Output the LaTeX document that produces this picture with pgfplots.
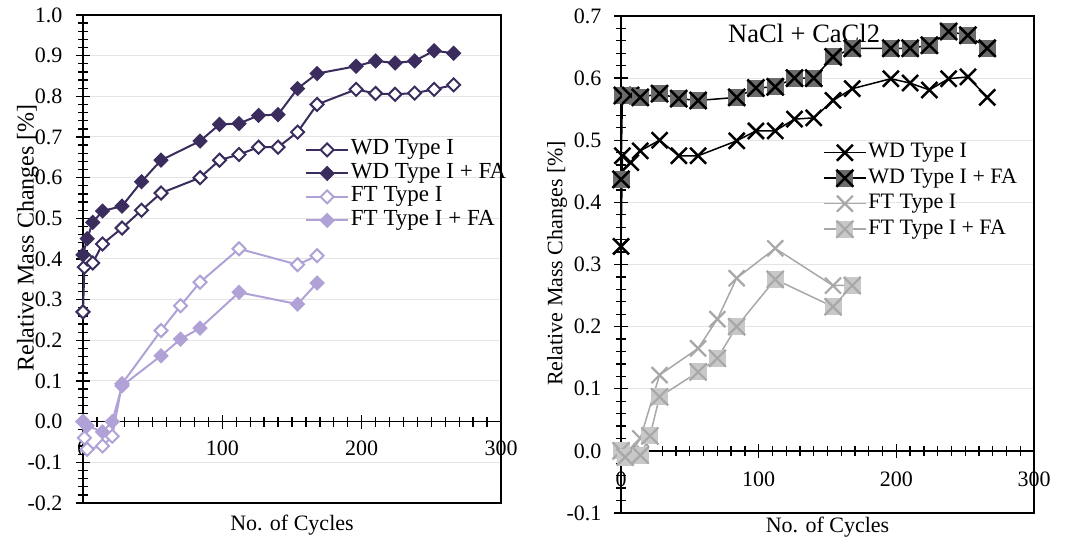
\documentclass[border=0pt]{standalone}
\usepackage{fontspec}
\setmainfont{Liberation Serif}
\usepackage{pgfplots}
\pgfplotsset{compat=1.18}

\definecolor{dpurple}{HTML}{3B2C5E}
\definecolor{lpurple}{HTML}{B0A2D6}
\definecolor{dgrayfill}{HTML}{6B6B6B}
\definecolor{lgray}{HTML}{A8A8A8}
\definecolor{lgrayfill}{HTML}{C8C8C8}
\definecolor{gridc}{HTML}{E4E4E4}

\pgfdeclareplotmark{rdiam}{%
  \pgfpathmoveto{\pgfqpoint{0pt}{\pgfplotmarksize}}%
  \pgfpathlineto{\pgfqpoint{\pgfplotmarksize}{0pt}}%
  \pgfpathlineto{\pgfqpoint{0pt}{-\pgfplotmarksize}}%
  \pgfpathlineto{\pgfqpoint{-\pgfplotmarksize}{0pt}}%
  \pgfpathclose\pgfusepathqfillstroke}
\pgfdeclareplotmark{bigx}{%
  \pgfpathmoveto{\pgfqpoint{-\pgfplotmarksize}{-\pgfplotmarksize}}%
  \pgfpathlineto{\pgfqpoint{\pgfplotmarksize}{\pgfplotmarksize}}%
  \pgfpathmoveto{\pgfqpoint{-\pgfplotmarksize}{\pgfplotmarksize}}%
  \pgfpathlineto{\pgfqpoint{\pgfplotmarksize}{-\pgfplotmarksize}}%
  \pgfusepathqstroke}
\pgfdeclareplotmark{boxx}{%
  \pgfpathrectangle{\pgfqpoint{-\pgfplotmarksize}{-\pgfplotmarksize}}{\pgfqpoint{2\pgfplotmarksize}{2\pgfplotmarksize}}%
  \pgfusepathqfill
  \pgfpathmoveto{\pgfqpoint{-\pgfplotmarksize}{-\pgfplotmarksize}}%
  \pgfpathlineto{\pgfqpoint{\pgfplotmarksize}{\pgfplotmarksize}}%
  \pgfpathmoveto{\pgfqpoint{-\pgfplotmarksize}{\pgfplotmarksize}}%
  \pgfpathlineto{\pgfqpoint{\pgfplotmarksize}{-\pgfplotmarksize}}%
  \pgfusepathqstroke}

\pgfplotsset{
  tickax/.style={
    scale only axis, anchor=south west,
    xmin=0, xmax=300,
    axis x line=middle, axis y line=left,
    axis line style={-, line width=1.6pt, black},
    major tick style={black, line width=1.3pt},
    minor tick style={black, line width=1.2pt},
    tick align=center, major tick length=14pt, minor tick length=10pt,
    xtick={0,100,200,300}, xticklabels={0,100,200,300},
    minor x tick num=9, minor y tick num=4,
    ymajorgrids, y grid style={gridc, line width=1pt},
    hide obscured x ticks=false, hide obscured y ticks=false,
    clip=false,
    ticklabel style={font=\fontsize{22}{26}\selectfont},
  },
  dataax/.style={
    scale only axis, anchor=south west,
    xmin=0, xmax=300, hide axis, clip=false,
    legend cell align=left,
    legend image code/.code={\draw[mark repeat=2,mark phase=2] plot coordinates {(0pt,0pt) (21pt,0pt) (42pt,0pt)};},
  },
}

\begin{document}
\begin{tikzpicture}[font=\fontsize{22}{26}\selectfont]
\useasboundingbox (0pt,0pt) rectangle (1066pt,540pt);

% ---------------- left panel: axes, ticks, grid ----------------
\begin{axis}[tickax, at={(83pt,37pt)}, width=418pt, height=488pt,
  ymin=-0.2, ymax=1.0,
  ytick={-0.2,-0.1,0,0.1,0.2,0.3,0.4,0.5,0.6,0.7,0.8,0.9,1.0},
  yticklabels={-0.2,-0.1,0.0,0.1,0.2,0.3,0.4,0.5,0.6,0.7,0.8,0.9,1.0},
  yticklabel style={xshift=-10pt}, xticklabel style={yshift=-9pt},
]
\addplot[draw=none, forget plot] coordinates {(0,0)};
\draw[line width=1.4pt, black] (rel axis cs:0,0) -- (rel axis cs:1,0) -- (rel axis cs:1,1) -- (rel axis cs:0,1);
\node[rotate=90, font=\fontsize{24}{28}\selectfont] at (axis cs:-39.5,0.452) {Relative Mass Changes [\%]};
\node at (axis cs:150,-0.254) {No. of Cycles};
\end{axis}

% tick ladders of the left panel (axis decoration)
\begin{scope}[x=1pt, y=1pt, line width=1.3pt, black]
\foreach \i in {0,...,60}{
  \pgfmathsetmacro\L{mod(\i,5)==0 ? 7 : 5}
  \draw ({83-\L},{37+\i*8.13333}) -- ({83+\L},{37+\i*8.13333});
}
\foreach \j in {0,...,30}{
  \pgfmathsetmacro\L{mod(\j,10)==0 ? 7 : 5}
  \draw ({83+\j*13.93333},{118.3333-\L}) -- ({83+\j*13.93333},{118.3333+\L});
}
\end{scope}

% ---------------- left panel: data ----------------
\begin{axis}[dataax, at={(83pt,37pt)}, width=418pt, height=488pt,
  ymin=-0.2, ymax=1.0,
  legend style={at={(0.531,0.748)}, anchor=north west, draw=none, fill=none,
    inner sep=0pt, font=\fontsize{23}{27}\selectfont,
    nodes={inner sep=1.75pt, text height=15pt, text depth=5pt}},
]
\addplot[dpurple, line width=2pt, mark=rdiam, mark size=6.5pt, mark options={fill=white, line width=2pt}] coordinates {
(0,0.27) (1,0.38) (3,0.40) (7,0.39) (14,0.437) (28,0.476) (42,0.52) (56,0.562)
(84,0.60) (98,0.643) (112,0.657) (126,0.675) (140,0.675) (154,0.712) (168,0.78)
(196,0.817) (210,0.807) (224,0.805) (238,0.808) (252,0.817) (266,0.828)};
\addlegendentry{WD Type I}
\addplot[dpurple, line width=2pt, mark=rdiam, mark size=7pt, mark options={fill=dpurple, line width=1pt}] coordinates {
(0,0.41) (3,0.45) (7,0.49) (14,0.518) (28,0.53) (42,0.59) (56,0.643)
(84,0.69) (98,0.731) (112,0.733) (126,0.753) (140,0.755) (154,0.819) (168,0.856)
(196,0.874) (210,0.887) (224,0.882) (238,0.887) (252,0.912) (266,0.906)};
\addlegendentry{WD Type I + FA}
\addplot[lpurple, line width=2pt, mark=rdiam, mark size=6.5pt, mark options={fill=white, line width=2pt}] coordinates {
(0,0.0) (1,-0.04) (3,-0.068) (14,-0.06) (21,-0.036) (28,0.093) (56,0.224) (70,0.285)
(84,0.343) (112,0.425) (154,0.386) (168,0.408)};
\addlegendentry{FT Type I}
\addplot[lpurple, line width=2pt, mark=rdiam, mark size=7pt, mark options={fill=lpurple, line width=1pt}] coordinates {
(0,0.0) (3,-0.01) (14,-0.025) (21,0.0) (28,0.088) (56,0.162) (70,0.203)
(84,0.23) (112,0.318) (154,0.289) (168,0.341)};
\addlegendentry{FT Type I + FA}
\end{axis}

% ---------------- right panel: axes, ticks, grid ----------------
\begin{axis}[tickax, at={(621pt,27pt)}, width=413pt, height=497pt,
  ymin=-0.1, ymax=0.7,
  ytick={-0.1,0,0.1,0.2,0.3,0.4,0.5,0.6,0.7},
  yticklabels={-0.1,0.0,0.1,0.2,0.3,0.4,0.5,0.6,0.7},
  yticklabel style={xshift=-9pt}, xticklabel style={yshift=-10pt},
]
\addplot[draw=none, forget plot] coordinates {(0,0)};
\draw[line width=1.4pt, black] (rel axis cs:0,0) -- (rel axis cs:1,0) -- (rel axis cs:1,1) -- (rel axis cs:0,1);
\node[rotate=90] at (axis cs:-46.4,0.302) {Relative Mass Changes [\%]};
\node at (axis cs:150,-0.1226) {No. of Cycles};
\node[font=\fontsize{26.5}{30}\selectfont] at (axis cs:133,0.672) {NaCl + CaCl2};
\end{axis}

% tick ladders of the right panel (axis decoration)
\begin{scope}[x=1pt, y=1pt, line width=1.3pt, black]
\foreach \i in {0,...,40}{
  \pgfmathsetmacro\L{mod(\i,5)==0 ? 7 : 5}
  \draw ({621-\L},{27+\i*12.425}) -- ({621+\L},{27+\i*12.425});
}
\foreach \j in {0,...,30}{
  \pgfmathsetmacro\L{mod(\j,10)==0 ? 7 : 5}
  \draw ({621+\j*13.76667},{89.125-\L}) -- ({621+\j*13.76667},{89.125+\L});
}
\end{scope}

% ---------------- right panel: data ----------------
\begin{axis}[dataax, at={(621pt,27pt)}, width=413pt, height=497pt,
  ymin=-0.1, ymax=0.7,
  legend style={at={(0.489,0.751)}, anchor=north west, draw=none, fill=none,
    inner sep=0pt, font=\fontsize{22}{26}\selectfont,
    nodes={inner sep=1.75pt, text height=16pt, text depth=6pt}},
]
\addplot[black, line width=1.5pt, mark=bigx, mark size=8pt, mark options={line width=2.5pt}] coordinates {
(0,0.329) (1,0.475) (7,0.464) (14,0.483) (28,0.50) (42,0.475) (56,0.475)
(84,0.499) (98,0.515) (112,0.515) (126,0.534) (140,0.536) (154,0.564) (168,0.583)
(196,0.599) (210,0.592) (224,0.581) (238,0.599) (252,0.602) (266,0.569)};
\addlegendentry{WD Type I}
\addplot[black, line width=1.5pt, mark=boxx, mark size=8.5pt, mark options={fill=dgrayfill, draw=black, line width=2.5pt}] coordinates {
(0,0.437) (1,0.572) (7,0.572) (14,0.569) (28,0.575) (42,0.567) (56,0.564)
(84,0.569) (98,0.584) (112,0.586) (126,0.600) (140,0.600) (154,0.634) (168,0.648)
(196,0.648) (210,0.648) (224,0.653) (238,0.675) (252,0.669) (266,0.648)};
\addlegendentry{WD Type I + FA}
\addplot[lgray, line width=1.5pt, mark=bigx, mark size=8pt, mark options={line width=2.2pt}] coordinates {
(0,0.0) (3,-0.005) (7,-0.005) (14,0.02) (28,0.122) (56,0.165) (70,0.212)
(84,0.278) (112,0.326) (154,0.266) (168,0.267)};
\addlegendentry{FT Type I}
\addplot[lgray, line width=1.5pt, mark=boxx, mark size=8.5pt, mark options={fill=lgrayfill, draw=lgray, line width=2.2pt}] coordinates {
(0,0.0) (3,-0.01) (14,-0.007) (21,0.024) (28,0.087) (56,0.127) (70,0.149)
(84,0.2) (112,0.276) (154,0.232) (168,0.266)};
\addlegendentry{FT Type I + FA}
\end{axis}
\end{tikzpicture}
\end{document}
